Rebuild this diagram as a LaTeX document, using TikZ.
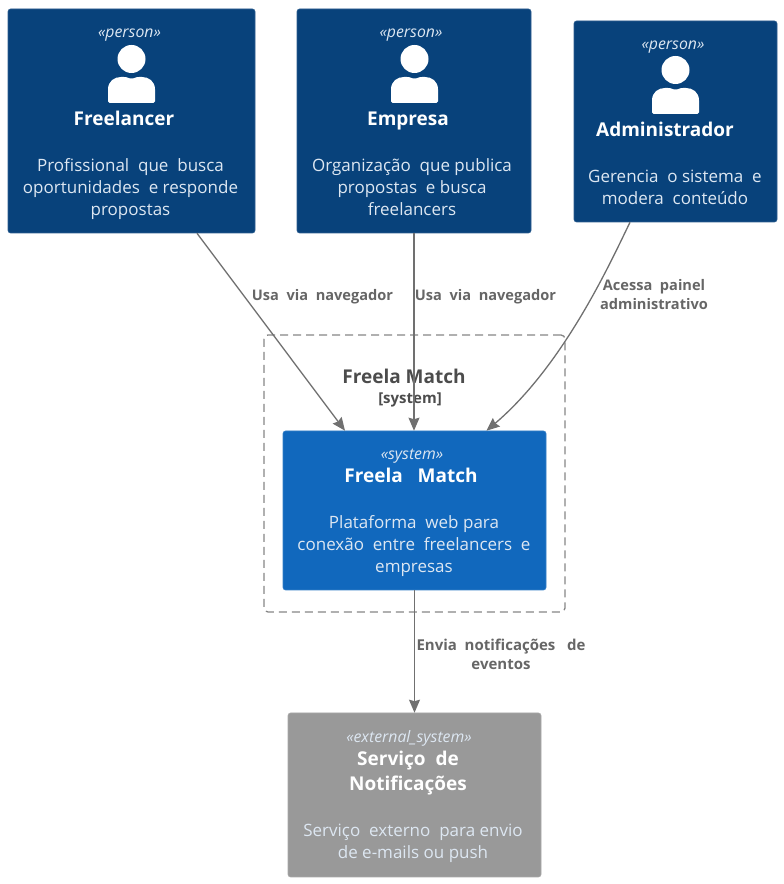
\documentclass[tikz,border=0pt]{standalone}
\usepackage{fontspec}
\setmainfont{Open Sans}
\usepackage{tikz}
\usetikzlibrary{arrows.meta}
\definecolor{personblue}{HTML}{08427B}
\definecolor{systemblue}{HTML}{1168BD}
\definecolor{extgray}{HTML}{999999}
\definecolor{linegray}{HTML}{707070}
\definecolor{labelgray}{HTML}{666666}
\definecolor{desclight}{HTML}{DDE7F2}
\tikzset{
  c4box/.style={draw=#1!85!white,fill=#1,rounded corners=2.5pt,line width=0.6pt,inner sep=0pt},
  stereo/.style={text=desclight,font=\fontsize{15.8}{18}\selectfont\itshape,inner sep=0pt},
  title/.style={text=white,font=\fontsize{19}{25}\selectfont\bfseries,align=center,inner sep=0pt},
  desc/.style={text=desclight,font=\fontsize{17}{22}\selectfont,align=center,inner sep=0pt},
  rel/.style={draw=linegray,line width=1.3pt,-{Stealth[length=13pt,width=11pt,inset=1.5pt]}},
  rellabel/.style={text=labelgray,font=\fontsize{14.6}{19}\selectfont\bfseries,align=center,inner sep=0pt},
}
\newcommand{\personicon}[2]{%
  \fill[white] (#1,#2+44) circle (14);
  \fill[white,rounded corners=1.5pt] (#1-23.5,#2+0) -- (#1-23.5,#2+12)
    .. controls (#1-23.5,#2+22) and (#1-17,#2+26) .. (#1-9,#2+26)
    .. controls (#1-4,#2+26) and (#1-3,#2+24.5) .. (#1,#2+24.5)
    .. controls (#1+3,#2+24.5) and (#1+4,#2+26) .. (#1+9,#2+26)
    .. controls (#1+17,#2+26) and (#1+23.5,#2+22) .. (#1+23.5,#2+12)
    -- (#1+23.5,#2+0) -- cycle;
}
\begin{document}
\begin{tikzpicture}[x=1pt,y=1pt]
\useasboundingbox (0,0) rectangle (784,884);
% people
\node[c4box=personblue,minimum width=247pt,minimum height=224pt] (freelancer) at (131.5,763) {};
\node[c4box=personblue,minimum width=234pt,minimum height=224pt] (empresa) at (414,763) {};
\node[c4box=personblue,minimum width=203pt,minimum height=201pt] (admin) at (675.5,762.5) {};
\personicon{131.5}{781}
\personicon{414.5}{781}
\personicon{675.5}{770}
\node[stereo] (freelancerTag) at (129.5,848.5) {«person»};
\node[stereo] (empresaTag) at (411,848.5) {«person»};
\node[stereo] (adminTag) at (673,837) {«person»};
\node[title] (freelancerName) at (124,766) {Freelancer};
\node[title] (empresaName) at (408,763) {Empresa};
\node[title] (adminName) at (665,755) {Administrador};
\node[desc] (freelancerDesc) at (130.5,695) {Profissional\ \ que\ \ busca\\oportunidades\ \ e responde\\propostas};
\node[desc] (empresaDesc) at (412,696.5) {Organização\ \ que publica\\propostas\ \ e busca\\freelancers};
\node[desc] (adminDesc) at (675,697) {Gerencia\ \ o sistema\ \ e\\modera\ \ conteúdo};
% boundary
\node[draw=linegray!85!white,dash pattern=on 8pt off 5pt,line width=1.3pt,rounded corners=4pt,minimum width=301pt,minimum height=277pt,inner sep=0pt] (boundary) at (414.5,410.5) {};
\node[text=black!70,font=\fontsize{19}{24}\selectfont\bfseries,inner sep=0pt] (boundaryName) at (404,508) {Freela Match};
\node[text=black!70,font=\fontsize{15}{18}\selectfont\bfseries,inner sep=0pt] (boundaryKind) at (410,484.5) {[system]};
% main system
\node[c4box=systemblue,minimum width=263pt,minimum height=159pt] (system) at (414.5,373.5) {};
\node[stereo] (systemTag) at (412,428) {«system»};
\node[title] (systemName) at (411,409) {Freela\ \ \ Match};
\node[desc] (systemDesc) at (414,338) {Plataforma\ \ web para\\conexão\ \ entre\ \ freelancers\ \ e\\empresas};
% external
\node[c4box=extgray,minimum width=253pt,minimum height=164pt] (external) at (414.5,89) {};
\node[stereo] (externalTag) at (409,146) {«external\_system»};
\node[title] (externalName) at (408,111) {Serviço\ \ de\\Notificações};
\node[desc] (externalDesc) at (413,41) {Serviço\ \ externo\ \ para envio\\de e-mails ou push};
% relations
\draw[rel] ([xshift=65.5pt]freelancer.south) -- ([xshift=-69.5pt]system.north);
\draw[rel] (empresa.south) -- ([xshift=-0.5pt]system.north);
\draw[rel] ([xshift=-45.5pt]admin.south) .. controls (612,625) and (565,520) .. ([xshift=72pt]system.north);
\draw[rel] (system.south) -- (external.north);
\node[rellabel] (relFreelancer) at (322.5,587.5) {Usa\ \ via\ \ navegador};
\node[rellabel] (relEmpresa) at (485.5,587.5) {Usa\ \ via\ \ navegador};
\node[rellabel] (relAdmin) at (654,589) {Acessa\ \ painel\\administrativo};
\node[rellabel,font=\fontsize{15}{19}\selectfont\bfseries] (relNotify) at (501,230) {Envia\ \ notificações\ \ \ de\\eventos};
\end{tikzpicture}
\end{document}
